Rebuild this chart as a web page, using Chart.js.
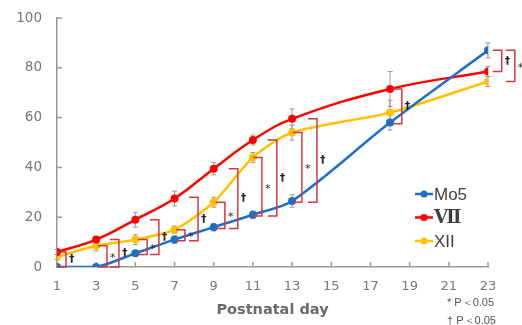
<!DOCTYPE html>
<html>
<head>
<meta charset="utf-8">
<script src="https://cdn.jsdelivr.net/npm/chart.js@4.4.1/dist/chart.umd.min.js"></script>
<style>
  html, body { margin: 0; padding: 0; background: #fff; }
  #wrap { width: 522px; height: 325px; }
</style>
</head>
<body>
<div id="wrap"><canvas id="growthChart" width="522" height="325"></canvas></div>
<script>
// Hodnoty odčítané z obrázku
const days = [1, 3, 5, 7, 9, 11, 13, 18, 23];
const xTicks = [1, 3, 5, 7, 9, 11, 13, 15, 17, 19, 21, 23];
const yTicks = [0, 20, 40, 60, 80, 100];

const seriesNames = ['Mo5', 'Ⅶ', 'XII'];
const mo5 = [0, 0, 5.5, 11, 16, 21, 26.5, 58, 87];
const vii = [6, 11, 19, 27.5, 39.5, 51, 59.5, 71.5, 78.5];
const xii = [4, 8.5, 11, 15, 26, 44, 54, 62, 74.5];

const mo5Err = [0, 0, 1, 1.5, 1.5, 1.5, 2.5, 3, 3];
const viiErr = [1, 1, 3, 3, 2.5, 2, 4, 7, 2];
const xiiErr = [1, 2, 2, 1.5, 2, 2, 3, 5, 2];

// Zátvorky významnosti: poloha (deň), horná a dolná hodnota, značka
const bracketX = [1.46, 3.55, 4.16, 5.6, 6.2, 7.53, 8.2, 9.57, 10.23, 11.46, 12.22, 13.5, 14.27, 18.6, 23.7, 24.37];
const bracketHi = [6, 8.5, 11, 11, 19, 15, 28, 26, 39.5, 44, 51, 54, 59.5, 71.5, 87, 87];
const bracketLo = [0, 0, 0, 5, 5, 10.5, 10.5, 15.5, 15.5, 20.5, 20.5, 26, 26, 57.5, 78.5, 74.5];
const bracketMark = ['†', '*', '†', '*', '†', '*', '†', '*', '†', '*', '†', '*', '†', '†', '†', '*'];

const colors = ['#1f6fc2', '#ff0000', '#ffc000'];
const tensions = [0.3, 0.4, 0.25];
const errors = [mo5Err, viiErr, xiiErr];

const toPoints = vals => vals.map((v, i) => ({ x: days[i], y: v }));

const decorPlugin = {
    id: 'decor',
    beforeDatasetsDraw(chart) {
        const c = chart.ctx;
        const xs = chart.scales.x, ys = chart.scales.y;
        // chybové úsečky
        c.save();
        c.strokeStyle = '#9a9a9a';
        c.lineWidth = 1;
        errors.forEach((errs, d) => {
            const vals = chart.data.datasets[d].data;
            vals.forEach((p, i) => {
                if (!errs[i]) return;
                const px = xs.getPixelForValue(p.x);
                const top = ys.getPixelForValue(p.y + errs[i]);
                const bot = ys.getPixelForValue(p.y - errs[i]);
                c.beginPath();
                c.moveTo(px, top); c.lineTo(px, bot);
                c.moveTo(px - 2.5, top); c.lineTo(px + 2.5, top);
                c.moveTo(px - 2.5, bot); c.lineTo(px + 2.5, bot);
                c.stroke();
            });
        });
        // dielky osí smerom dovnútra + popisy osi y
        c.lineWidth = 1.5;
        c.beginPath();
        ys.ticks.forEach(t => {
            const py = ys.getPixelForValue(t.value);
            c.moveTo(xs.left, py); c.lineTo(xs.left + 5, py);
        });
        xs.ticks.forEach(t => {
            const px = xs.getPixelForValue(t.value);
            c.moveTo(px, ys.bottom); c.lineTo(px, ys.bottom - 5);
        });
        c.stroke();
        c.fillStyle = '#777';
        c.font = '13.5px "DejaVu Sans"';
        c.textAlign = 'right';
        c.textBaseline = 'middle';
        ys.ticks.forEach(t => {
            c.fillText(String(t.value), xs.left - 15, ys.getPixelForValue(t.value));
        });
        c.restore();
    },
    afterDatasetsDraw(chart) {
        const c = chart.ctx;
        const xs = chart.scales.x, ys = chart.scales.y;
        c.save();
        // zátvorky
        c.strokeStyle = '#d03a40';
        c.lineWidth = 1.5;
        bracketX.forEach((bx, i) => {
            const px = xs.getPixelForValue(bx);
            const top = ys.getPixelForValue(bracketHi[i]);
            const bot = ys.getPixelForValue(bracketLo[i]);
            c.beginPath();
            c.moveTo(px - 9, top); c.lineTo(px, top);
            c.lineTo(px, bot); c.lineTo(px - 9, bot);
            c.stroke();
            c.fillStyle = '#222';
            c.textBaseline = 'middle';
            c.textAlign = 'left';
            if (bracketMark[i] === '*') {
                c.font = '11px "DejaVu Sans"';
                c.fillText('*', px + 3, (top + bot) / 2 + 2);
            } else {
                c.font = 'bold 11px "DejaVu Sans"';
                c.fillText('†', px + 3, (top + bot) / 2);
            }
        });
        // legenda
        c.textBaseline = 'middle';
        c.textAlign = 'left';
        seriesNames.forEach((name, i) => {
            const ly = 194 + i * 23.5;
            c.strokeStyle = colors[i];
            c.fillStyle = colors[i];
            c.lineWidth = 2.5;
            c.beginPath();
            c.moveTo(415, ly); c.lineTo(433, ly);
            c.stroke();
            c.beginPath();
            c.arc(424, ly, 3.5, 0, Math.PI * 2);
            c.fill();
            c.fillStyle = '#404040';
            c.font = i === 1 ? 'bold 18px "DejaVu Serif", serif' : '17px "Liberation Sans", Arial, sans-serif';
            c.fillText(name, 434, ly + 1);
        });
        // poznámky
        c.fillStyle = '#555';
        c.font = '11px "Liberation Sans", Arial, sans-serif';
        c.fillText('* P＜0.05', 447, 303);
        c.fillText('† P＜0.05', 447, 321);
        c.restore();
    }
};

const ctx = document.getElementById('growthChart').getContext('2d');

new Chart(ctx, {
    type: 'line',
    data: {
        datasets: [mo5, vii, xii].map((vals, i) => ({
            label: seriesNames[i],
            data: toPoints(vals),
            borderColor: colors[i],
            backgroundColor: colors[i],
            borderWidth: 2.5,
            pointRadius: 4,
            pointBorderWidth: 0,
            tension: tensions[i],
            fill: false
        }))
    },
    options: {
        responsive: false,
        devicePixelRatio: 1,
        animation: false,
        layout: { padding: { left: 0, right: 34, top: 18, bottom: 0 } },
        scales: {
            x: {
                type: 'linear',
                min: 1,
                max: 23,
                afterBuildTicks: s => { s.ticks = xTicks.map(v => ({ value: v })); },
                afterFit: s => { s.height = 58; },
                grid: { drawOnChartArea: false, drawTicks: false },
                border: { display: true, color: '#9a9a9a', width: 1.5 },
                ticks: {
                    padding: 12,
                    color: '#777',
                    font: { family: 'DejaVu Sans', size: 13 }
                },
                title: {
                    display: true,
                    text: 'Postnatal day',
                    color: '#6a6a6a',
                    font: { family: 'DejaVu Sans', size: 14.5, weight: 'bold' },
                    padding: { top: 0, bottom: 6 }
                }
            },
            y: {
                min: 0,
                max: 100,
                afterBuildTicks: s => { s.ticks = yTicks.map(v => ({ value: v })); },
                afterFit: s => { s.width = 57; },
                grid: { drawOnChartArea: false, drawTicks: false },
                border: { display: true, color: '#9a9a9a', width: 1.5 },
                ticks: { display: false }
            }
        },
        plugins: {
            legend: { display: false },
            tooltip: { enabled: false }
        }
    },
    plugins: [decorPlugin]
});
</script>
</body>
</html>
